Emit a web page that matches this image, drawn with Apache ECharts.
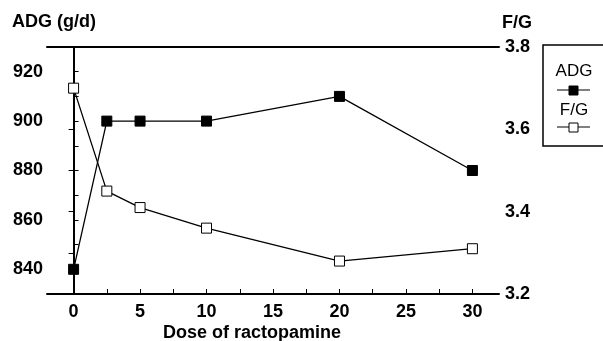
<!DOCTYPE html>
<html>
<head>
<meta charset="utf-8">
<script src="https://cdn.jsdelivr.net/npm/echarts@6/dist/echarts.min.js"></script>
<style>
  html, body { margin: 0; padding: 0; background: #fff; }
  #chart { width: 603px; height: 341px; }
</style>
</head>
<body>
<div id="chart"></div>
<script>
// dose of ractopamine
const doses = [0, 2.5, 5, 10, 20, 30];
// average daily gain, g/d
const adgValues = [840, 900, 900, 900, 910, 880];
// feed / gain ratio
const fgValues = [3.70, 3.45, 3.41, 3.36, 3.28, 3.31];

const xLabels = [0, 5, 10, 15, 20, 25, 30];
const xTicks = [0, 2.5, 5, 7.5, 10, 12.5, 15, 17.5, 20, 22.5, 25, 27.5, 30];
const adgLabels = [840, 860, 880, 900, 920];
const fgLabels = [3.2, 3.4, 3.6, 3.8];

const FONT = "'Liberation Sans', Arial, Helvetica, sans-serif";

const chart = echarts.init(document.getElementById('chart'));

const labelStyle = {
  color: '#000',
  fontFamily: FONT,
  fontWeight: 'bold',
  fontSize: 18
};
const axisLine = { show: true, lineStyle: { color: '#000', width: 2 } };
const tickStyle = { color: '#000', width: 1 };

const option = {
  animation: false,
  backgroundColor: '#fff',
  grid: { left: 47, top: 47, right: 104, bottom: 47 },
  xAxis: [
    {
      type: 'value',
      min: -2,
      max: 32,
      axisLine: axisLine,
      splitLine: { show: false },
      axisTick: { show: true, inside: true, length: 5, lineStyle: tickStyle, customValues: xTicks },
      axisLabel: Object.assign({ margin: 9, customValues: xLabels }, labelStyle)
    },
    {
      // top frame line only
      type: 'value',
      position: 'top',
      min: -2,
      max: 32,
      axisLine: axisLine,
      splitLine: { show: false },
      axisTick: { show: false },
      axisLabel: { show: false }
    }
  ],
  yAxis: [
    {
      type: 'value',
      min: 830,
      max: 930,
      interval: 10,
      position: 'left',
      axisLine: axisLine,
      splitLine: { show: false },
      axisTick: { show: true, inside: true, length: 5, lineStyle: tickStyle },
      axisLabel: Object.assign({ margin: 4, customValues: adgLabels }, labelStyle)
    },
    {
      type: 'value',
      min: 3.2,
      max: 3.8,
      interval: 0.1,
      position: 'right',
      axisLine: axisLine,
      splitLine: { show: false },
      axisTick: { show: true, inside: true, length: 5, lineStyle: tickStyle },
      axisLabel: Object.assign({
        margin: 6,
        customValues: fgLabels,
        formatter: v => v.toFixed(1)
      }, labelStyle)
    }
  ],
  series: [
    {
      name: 'ADG',
      type: 'line',
      yAxisIndex: 0,
      data: doses.map((d, i) => [d, adgValues[i]]),
      symbol: 'rect',
      symbolSize: 10,
      lineStyle: { color: '#000', width: 1.3 },
      itemStyle: { color: '#000', borderColor: '#000', borderWidth: 1 },
      z: 3
    },
    {
      name: 'F/G',
      type: 'line',
      yAxisIndex: 1,
      data: doses.map((d, i) => [d, fgValues[i]]),
      symbol: 'rect',
      symbolSize: 10,
      lineStyle: { color: '#000', width: 1.3 },
      itemStyle: { color: '#fff', borderColor: '#000', borderWidth: 1 },
      z: 4
    }
  ],
  graphic: [
    // axis titles
    {
      type: 'text', left: 12, top: 13,
      style: { text: 'ADG (g/d)', fill: '#000', font: 'bold 18px ' + FONT }
    },
    {
      type: 'text', left: 502, top: 14,
      style: { text: 'F/G', fill: '#000', font: 'bold 18px ' + FONT }
    },
    {
      type: 'text', left: 163, top: 324,
      style: { text: 'Dose of ractopamine', fill: '#000', font: 'bold 18px ' + FONT }
    },
    // legend box
    {
      type: 'rect',
      shape: { x: 543, y: 45, width: 70, height: 101 },
      style: { fill: '#fff', stroke: '#000', lineWidth: 1.5 }
    },
    {
      type: 'text', x: 574, y: 71,
      style: { text: 'ADG', fill: '#000', font: '17px ' + FONT, align: 'center', verticalAlign: 'middle' }
    },
    {
      type: 'line',
      shape: { x1: 557, y1: 90, x2: 590, y2: 90 },
      style: { stroke: '#000', lineWidth: 1.2 }
    },
    {
      type: 'rect',
      shape: { x: 569, y: 86, width: 9, height: 9 },
      style: { fill: '#000', stroke: '#000', lineWidth: 1 }
    },
    {
      type: 'text', x: 574, y: 110,
      style: { text: 'F/G', fill: '#000', font: '17px ' + FONT, align: 'center', verticalAlign: 'middle' }
    },
    {
      type: 'line',
      shape: { x1: 557, y1: 127, x2: 590, y2: 127 },
      style: { stroke: '#000', lineWidth: 1.2 }
    },
    {
      type: 'rect',
      shape: { x: 569, y: 123, width: 9, height: 9 },
      style: { fill: '#fff', stroke: '#000', lineWidth: 1 }
    }
  ]
};

chart.setOption(option);
</script>
</body>
</html>
